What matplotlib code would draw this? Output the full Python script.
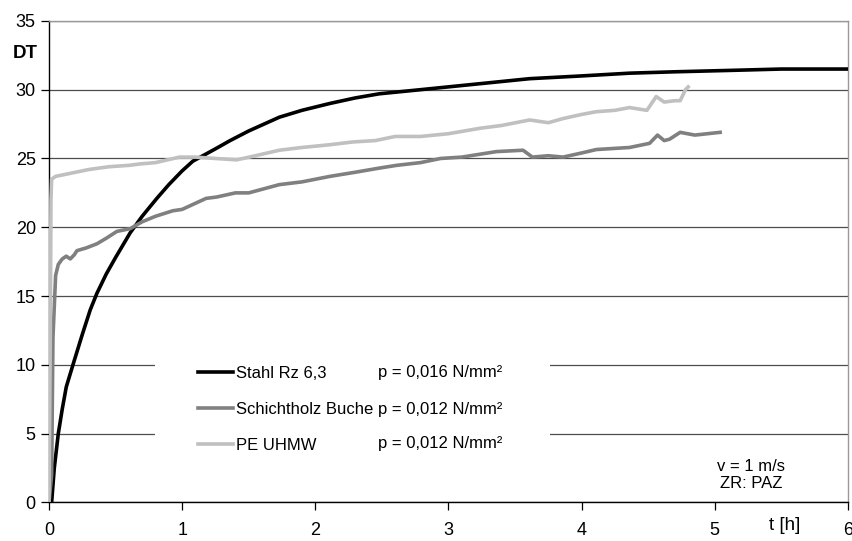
import numpy as np
import matplotlib
matplotlib.use("Agg")
import matplotlib.pyplot as plt
from matplotlib.patches import Rectangle

plt.rcParams['font.family'] = ['Liberation Sans', 'DejaVu Sans']

# Stahl Rz 6,3
t_stahl = [0.02, 0.04, 0.07, 0.1, 0.13, 0.18, 0.25, 0.31, 0.36, 0.43, 0.5, 0.61, 0.7, 0.81,
           0.9, 1.0, 1.08, 1.25, 1.36, 1.5, 1.73, 1.9, 2.11, 2.3, 2.48, 2.79, 3.2, 3.61,
           4.0, 4.36, 4.7, 5.11, 5.5, 6.0]
y_stahl = [0, 2.5, 5.0, 6.8, 8.4, 10.0, 12.2, 14.0, 15.2, 16.6, 17.8, 19.6, 20.8, 22.1,
           23.1, 24.1, 24.8, 25.7, 26.3, 27.0, 28.0, 28.5, 29.0, 29.4, 29.7, 30.0, 30.4, 30.8,
           31.0, 31.2, 31.3, 31.4, 31.5, 31.5]

# Schichtholz Buche
t_holz = [0.0, 0.02, 0.03, 0.05, 0.07, 0.1, 0.13, 0.16, 0.19, 0.21, 0.28, 0.36, 0.43, 0.51,
          0.61, 0.7, 0.8, 0.93, 1.0, 1.18, 1.26, 1.4, 1.5, 1.73, 1.9, 2.11, 2.3, 2.48, 2.61,
          2.79, 2.94, 3.1, 3.36, 3.56, 3.63, 3.75, 3.86, 4.0, 4.11, 4.36, 4.51, 4.57, 4.62,
          4.66, 4.74, 4.85, 5.04]
y_holz = [0, 2, 12, 16.5, 17.3, 17.7, 17.9, 17.7, 18.0, 18.3, 18.5, 18.8, 19.2, 19.7,
          19.9, 20.4, 20.8, 21.2, 21.3, 22.1, 22.2, 22.5, 22.5, 23.1, 23.3, 23.7, 24.0, 24.3, 24.5,
          24.7, 25.0, 25.1, 25.5, 25.6, 25.1, 25.2, 25.1, 25.4, 25.65, 25.8, 26.1, 26.7, 26.3,
          26.4, 26.9, 26.7, 26.9]

# PE UHMW
t_pe = [0.0, 0.01, 0.015, 0.02, 0.05, 0.1, 0.2, 0.3, 0.45, 0.6, 0.68, 0.8, 0.98, 1.1,
        1.25, 1.41, 1.55, 1.73, 1.9, 2.11, 2.28, 2.45, 2.6, 2.79, 3.0, 3.24, 3.4, 3.61, 3.75,
        3.86, 4.0, 4.11, 4.25, 4.36, 4.49, 4.56, 4.62, 4.7, 4.74, 4.78, 4.8]
y_pe = [0, 12, 22, 23.5, 23.7, 23.8, 24.0, 24.2, 24.4, 24.5, 24.6, 24.7, 25.1, 25.1,
        25.0, 24.9, 25.2, 25.6, 25.8, 26.0, 26.2, 26.3, 26.6, 26.6, 26.8, 27.2, 27.4, 27.8, 27.6,
        27.9, 28.2, 28.4, 28.5, 28.7, 28.5, 29.5, 29.1, 29.2, 29.2, 30.0, 30.2]

names = ['Stahl Rz 6,3', 'Schichtholz Buche', 'PE UHMW']
pressures = ['p = 0,016 N/mm²', 'p = 0,012 N/mm²', 'p = 0,012 N/mm²']
colors = ['black', '#808080', '#c0c0c0']

fig = plt.figure(figsize=(8.53, 5.41), dpi=100)
ax = fig.add_axes([0.0574, 0.0712, 0.9367, 0.8902])

ax.plot(t_stahl, y_stahl, color=colors[0], lw=2.6, label=names[0], zorder=3)
ax.plot(t_holz, y_holz, color=colors[1], lw=2.6, label=names[1], zorder=3)
ax.plot(t_pe, y_pe, color=colors[2], lw=2.6, label=names[2], zorder=3)

ax.set_xlim(0, 6)
ax.set_ylim(0, 35)
ax.set_xticks(range(0, 7))
ax.set_yticks(range(0, 36, 5))
ax.yaxis.grid(True, color='#4d4d4d', lw=0.9)
ax.set_axisbelow(True)
ax.tick_params(axis='both', labelsize=13, direction='out', length=6, width=0.9, color='black')
ax.tick_params(axis='x', pad=8)
for s in ['left', 'bottom']:
    ax.spines[s].set_color('black')
    ax.spines[s].set_linewidth(1.0)
for s in ['right', 'top']:
    ax.spines[s].set_color('#999999')
    ax.spines[s].set_linewidth(1.0)

# white box behind the legend hides the gridlines
ax.add_patch(Rectangle((0.8, 3.1), 2.96, 9.4, facecolor='white', edgecolor='none', zorder=1.5))

leg = ax.legend(loc='center left', bbox_to_anchor=(1.12, 6.75), bbox_transform=ax.transData,
                frameon=False, fontsize=12, handlelength=2.1, handletextpad=0.2,
                labelspacing=1.25, borderpad=0, borderaxespad=0)
row_y = [9.45, 6.75, 4.3]
for p, yy in zip(pressures, row_y):
    ax.text(2.47, yy, p, fontsize=12, va='center', ha='left', zorder=4)

ax.text(-0.176, 32.6, 'DT', fontsize=13.5, fontweight='bold', ha='center', va='center')
ax.text(5.525, -1.05, 't [h]', fontsize=13.5, ha='center', va='top')
ax.text(5.27, 2.0, 'v = 1 m/s\nZR: PAZ', fontsize=12, ha='center', va='center',
        linespacing=1.15)

fig.savefig('out.png', dpi=100)
